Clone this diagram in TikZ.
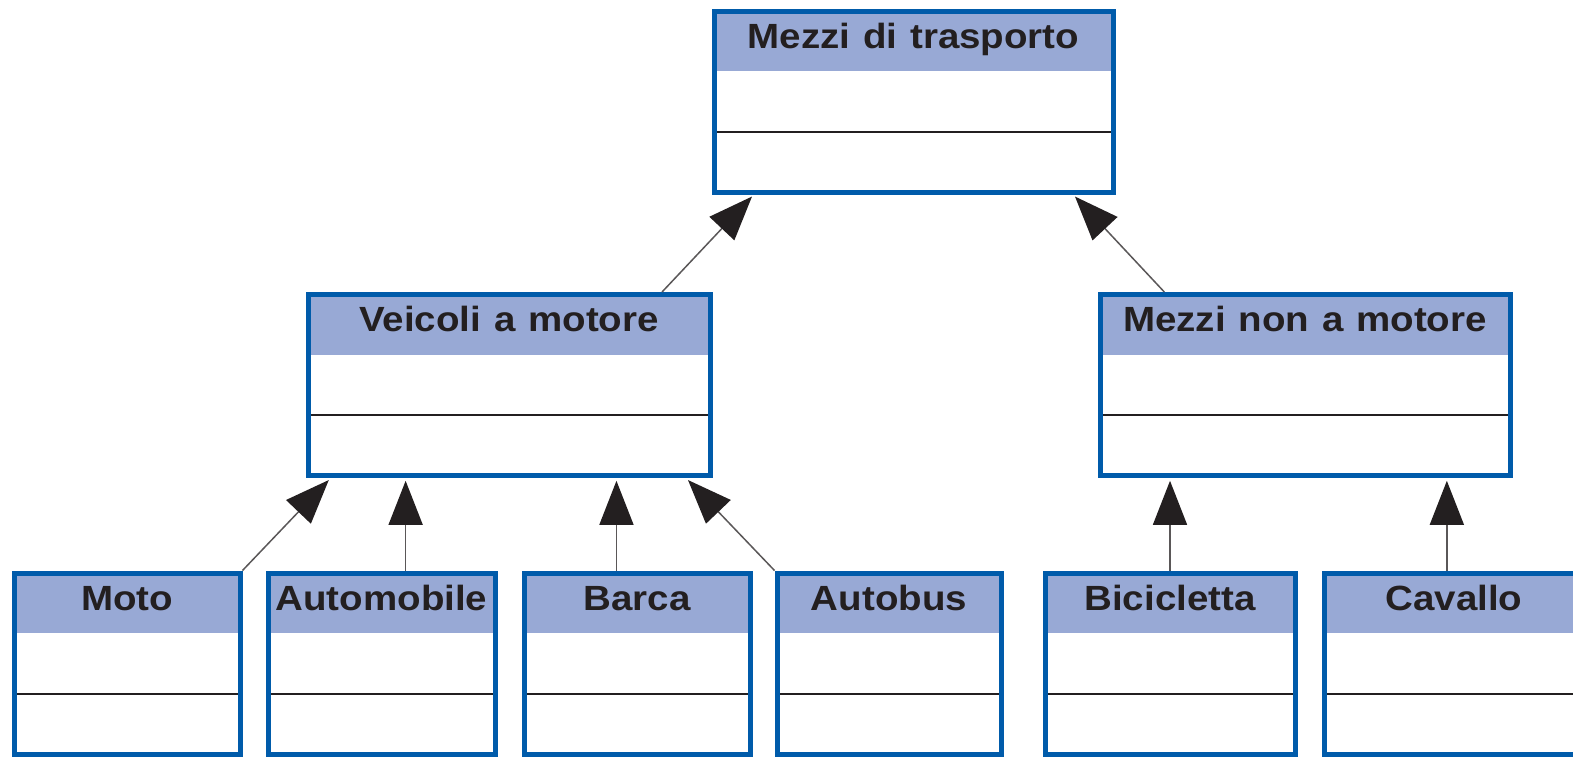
\documentclass[tikz,border=0pt]{standalone}
\usepackage{fontspec}
\usepackage{xcolor}
\usetikzlibrary{arrows.meta,calc}

\newfontfamily\classfont{Liberation Sans}[FakeStretch=1.1,WordSpace=1.2]
\definecolor{umlblue}{HTML}{005BAA}
\definecolor{headblue}{HTML}{98A9D5}
\definecolor{inkgray}{HTML}{231F20}

\tikzset{
    classbox/.style={draw=umlblue, line width=2.5pt, fill=white, inner sep=0pt,
        text height=18.5pt, text depth=72pt, text=inkgray,
        font=\classfont\bfseries\fontsize{17.5}{20}\selectfont,
        path picture={
            \fill[headblue] (path picture bounding box.north west) rectangle
                ($(path picture bounding box.north east)!1/3!(path picture bounding box.south east)$);
            \draw[line width=0.9pt, inkgray]
                ($(path picture bounding box.north west)!2/3!(path picture bounding box.south west)$) --
                ($(path picture bounding box.north east)!2/3!(path picture bounding box.south east)$);
        }},
    isa/.style={-{Triangle[length=22pt,width=17pt,color=inkgray]}, line width=0.75pt,
        draw=inkgray!75, shorten >=1.4pt}
}

\begin{document}
\begin{tikzpicture}[x=0.5pt, y=-0.5pt]
            \useasboundingbox (0,0) rectangle (1573,756);

            % Root class
            \node[classbox, minimum width=199.5pt] (root) at (913.5,101.5) {Mezzi di trasporto};

            % Middle classes
            \node[classbox, minimum width=201pt] (veicoli) at (509,385) {Veicoli a motore};
            \node[classbox, minimum width=205pt] (nonmot) at (1305,385) {Mezzi non a motore};

            % Leaf classes
            \foreach \name/\cx/\w/\title in {moto/127/226/Moto, automobile/381.5/227/Automobile,
                barca/637/226/Barca, autobus/889/224/Autobus,
                bicicletta/1170/250/Bicicletta, cavallo/1454/260/Cavallo} {
                \node[classbox, minimum width={0.5pt*\w}] (\name) at (\cx,663.5) {\title};
            }

            % Generalisation arrows to the root
            \draw[isa] ($(veicoli.north west)!.876!(veicoli.north east)$) -- ($(root.south west)!.105!(root.south east)$);
            \draw[isa] ($(nonmot.north west)!.161!(nonmot.north east)$) -- ($(root.south west)!.895!(root.south east)$);

            % Generalisation arrows to Veicoli a motore
            \path ($(veicoli.south west)!.246!(veicoli.south east)$) coordinate (vA)
                  ($(veicoli.south west)!.764!(veicoli.south east)$) coordinate (vB);
            \draw[isa] (moto.north east) -- ($(veicoli.south west)!.062!(veicoli.south east)$);
            \draw[isa] (automobile.north -| vA) -- (vA);
            \draw[isa] (barca.north -| vB) -- (vB);
            \draw[isa] (autobus.north west) -- ($(veicoli.south west)!.935!(veicoli.south east)$);

            % Generalisation arrows to Mezzi non a motore
            \path ($(cavallo.north west)!.473!(cavallo.north east)$) coordinate (cT);
            \draw[isa] (bicicletta.north) -- (bicicletta.north |- nonmot.south);
            \draw[isa] (cT) -- (cT |- nonmot.south);

        \end{tikzpicture}
\end{document}
